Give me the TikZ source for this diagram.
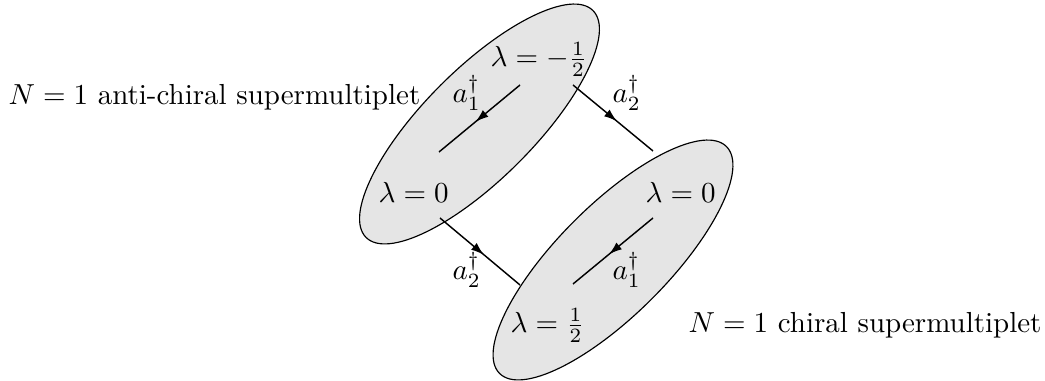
\documentclass[tikz,border=0pt]{standalone}
\usetikzlibrary{shapes.geometric,arrows.meta,decorations.markings}
\begin{document}
\begin{tikzpicture}[x=0.345pt,y=-0.345pt,
  multiplet/.style={draw=black,line width=0.4pt,fill=black!10,ellipse,rotate=45,
    minimum width=110.7pt,minimum height=37.9pt,inner sep=0pt},
  lbl/.style={inner sep=0pt,anchor=base west},
  midarrow/.style={line width=0.5pt,postaction={decorate},
    decoration={markings,mark=at position 0.55 with {\arrow{Latex[length=4.5pt,width=3pt]}}}}]
\useasboundingbox (0,0) rectangle (1045,381);
\node[multiplet] (anti) at (479.5,124) {};
\node[multiplet] (chiral) at (613,260) {};
% labels inside ellipses
\node[lbl] (lmh) at (490,67) {$\lambda=-\frac{1}{2}$};
\node[lbl] (l0a) at (378,203) {$\lambda=0$};
\node[lbl] (l0b) at (645,203) {$\lambda=0$};
\node[lbl] (lph) at (510,333) {$\lambda=\frac{1}{2}$};
% operator labels
\node[lbl] (a1u) at (452,103) {$a_1^\dagger$};
\node[lbl] (a2u) at (612,103) {$a_2^\dagger$};
\node[lbl] (a2l) at (452,280) {$a_2^\dagger$};
\node[lbl] (a1l) at (612,280) {$a_1^\dagger$};
% titles
\node[lbl] (tanti) at (8,105) {$N=1$ anti-chiral supermultiplet};
\node[lbl] (tchir) at (688,333) {$N=1$ chiral supermultiplet};
% connector end points
\coordinate (p1s) at (520,85);  \coordinate (p1e) at (439,152);
\coordinate (p2s) at (653,218); \coordinate (p2e) at (573,284);
\coordinate (q1s) at (573,85);  \coordinate (q1e) at (653,151);
\coordinate (q2s) at (440,218); \coordinate (q2e) at (520,285);
\draw[midarrow] (p1s) -- (p1e);
\draw[midarrow] (p2s) -- (p2e);
\draw[midarrow] (q1s) -- (q1e);
\draw[midarrow] (q2s) -- (q2e);
\end{tikzpicture}
\end{document}
